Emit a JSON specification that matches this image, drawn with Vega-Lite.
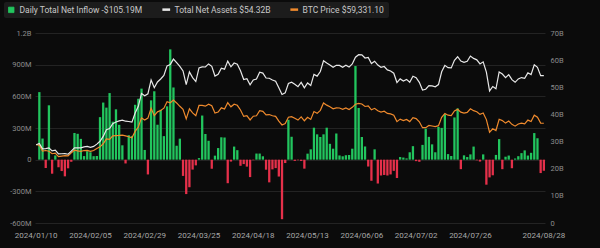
{
"$schema": "https://vega.github.io/schema/vega-lite/v6.json",
"width": 510,
"height": 190,
"autosize": {"type": "none"},
"padding": {"left": 35, "top": 33, "right": 55, "bottom": 25},
"background": "#0b0b0b",
"config": {"view": {"stroke": null}, "font": "Roboto"},
"data": {"values": [
{"date":"2024/01/10","inflow":0,"assets":28.85,"btc":46600},
{"date":"2024/01/11","inflow":640,"assets":29.31,"btc":46300},
{"date":"2024/01/12","inflow":200,"assets":27.31,"btc":42800},
{"date":"2024/01/16","inflow":-79,"assets":27.41,"btc":43100},
{"date":"2024/01/17","inflow":515,"assets":27.67,"btc":42700},
{"date":"2024/01/18","inflow":-133,"assets":26.57,"btc":41200},
{"date":"2024/01/19","inflow":40,"assets":26.87,"btc":41600},
{"date":"2024/01/22","inflow":-72,"assets":25.44,"btc":39500},
{"date":"2024/01/23","inflow":-108,"assets":25.51,"btc":39800},
{"date":"2024/01/24","inflow":-158,"assets":25.54,"btc":40100},
{"date":"2024/01/25","inflow":-82,"assets":25.34,"btc":39900},
{"date":"2024/01/26","inflow":-20,"assets":26.50,"btc":41800},
{"date":"2024/01/29","inflow":253,"assets":27.71,"btc":43300},
{"date":"2024/01/30","inflow":245,"assets":27.71,"btc":42900},
{"date":"2024/01/31","inflow":197,"assets":27.69,"btc":42600},
{"date":"2024/02/01","inflow":34,"assets":28.06,"btc":43100},
{"date":"2024/02/02","inflow":80,"assets":28.21,"btc":43200},
{"date":"2024/02/05","inflow":70,"assets":27.86,"btc":42600},
{"date":"2024/02/06","inflow":33,"assets":28.23,"btc":43100},
{"date":"2024/02/07","inflow":35,"assets":29.06,"btc":44300},
{"date":"2024/02/08","inflow":403,"assets":30.12,"btc":45300},
{"date":"2024/02/09","inflow":541,"assets":31.89,"btc":47100},
{"date":"2024/02/12","inflow":493,"assets":34.35,"btc":50000},
{"date":"2024/02/13","inflow":631,"assets":34.79,"btc":49700},
{"date":"2024/02/14","inflow":360,"assets":36.62,"btc":51800},
{"date":"2024/02/15","inflow":477,"assets":37.23,"btc":52000},
{"date":"2024/02/16","inflow":330,"assets":37.62,"btc":52100},
{"date":"2024/02/20","inflow":136,"assets":37.92,"btc":52300},
{"date":"2024/02/21","inflow":-36,"assets":37.50,"btc":51800},
{"date":"2024/02/22","inflow":232,"assets":37.40,"btc":51300},
{"date":"2024/02/23","inflow":225,"assets":37.16,"btc":50700},
{"date":"2024/02/26","inflow":520,"assets":40.49,"btc":54500},
{"date":"2024/02/27","inflow":577,"assets":43.00,"btc":57100},
{"date":"2024/02/28","inflow":673,"assets":47.75,"btc":62500},
{"date":"2024/02/29","inflow":92,"assets":46.88,"btc":61200},
{"date":"2024/03/01","inflow":-140,"assets":47.61,"btc":62400},
{"date":"2024/03/04","inflow":562,"assets":52.66,"btc":68300},
{"date":"2024/03/05","inflow":648,"assets":49.83,"btc":63800},
{"date":"2024/03/06","inflow":331,"assets":51.95,"btc":66100},
{"date":"2024/03/07","inflow":472,"assets":53.05,"btc":66900},
{"date":"2024/03/08","inflow":223,"assets":54.37,"btc":68300},
{"date":"2024/03/11","inflow":505,"assets":57.90,"btc":72100},
{"date":"2024/03/12","inflow":1045,"assets":58.42,"btc":71500},
{"date":"2024/03/13","inflow":684,"assets":60.38,"btc":73100},
{"date":"2024/03/14","inflow":132,"assets":59.12,"btc":71400},
{"date":"2024/03/15","inflow":199,"assets":57.67,"btc":69400},
{"date":"2024/03/18","inflow":-154,"assets":56.04,"btc":67600},
{"date":"2024/03/19","inflow":-326,"assets":51.01,"btc":61900},
{"date":"2024/03/20","inflow":-261,"assets":55.68,"btc":67900},
{"date":"2024/03/21","inflow":-94,"assets":53.58,"btc":65500},
{"date":"2024/03/22","inflow":-54,"assets":52.12,"btc":63800},
{"date":"2024/03/25","inflow":15,"assets":57.11,"btc":69900},
{"date":"2024/03/26","inflow":418,"assets":57.53,"btc":69900},
{"date":"2024/03/27","inflow":243,"assets":57.48,"btc":69500},
{"date":"2024/03/28","inflow":179,"assets":58.61,"btc":70700},
{"date":"2024/04/01","inflow":-86,"assets":57.71,"btc":69700},
{"date":"2024/04/02","inflow":38,"assets":54.15,"btc":65400},
{"date":"2024/04/03","inflow":110,"assets":54.78,"btc":66000},
{"date":"2024/04/04","inflow":212,"assets":57.06,"btc":68500},
{"date":"2024/04/05","inflow":210,"assets":56.68,"btc":67800},
{"date":"2024/04/08","inflow":-223,"assets":59.64,"btc":71600},
{"date":"2024/04/09","inflow":-18,"assets":57.56,"btc":69100},
{"date":"2024/04/10","inflow":124,"assets":58.95,"btc":70600},
{"date":"2024/04/11","inflow":90,"assets":58.52,"btc":70000},
{"date":"2024/04/12","inflow":-58,"assets":56.11,"btc":67200},
{"date":"2024/04/15","inflow":-42,"assets":52.88,"btc":63400},
{"date":"2024/04/16","inflow":-66,"assets":53.15,"btc":63800},
{"date":"2024/04/17","inflow":-165,"assets":50.88,"btc":61300},
{"date":"2024/04/18","inflow":-5,"assets":52.71,"btc":63500},
{"date":"2024/04/19","inflow":58,"assets":53.02,"btc":63800},
{"date":"2024/04/22","inflow":58,"assets":55.58,"btc":66800},
{"date":"2024/04/23","inflow":32,"assets":55.24,"btc":66400},
{"date":"2024/04/24","inflow":-95,"assets":53.43,"btc":64300},
{"date":"2024/04/25","inflow":-215,"assets":53.34,"btc":64500},
{"date":"2024/04/26","inflow":-92,"assets":52.70,"btc":63800},
{"date":"2024/04/29","inflow":-80,"assets":52.24,"btc":63400},
{"date":"2024/04/30","inflow":-160,"assets":49.81,"btc":60600},
{"date":"2024/05/01","inflow":-564,"assets":47.34,"btc":58300},
{"date":"2024/05/02","inflow":-32,"assets":47.93,"btc":59100},
{"date":"2024/05/03","inflow":378,"assets":51.39,"btc":62900},
{"date":"2024/05/06","inflow":217,"assets":51.89,"btc":63200},
{"date":"2024/05/07","inflow":-12,"assets":51.15,"btc":62300},
{"date":"2024/05/08","inflow":-5,"assets":50.25,"btc":61200},
{"date":"2024/05/09","inflow":-12,"assets":51.81,"btc":63100},
{"date":"2024/05/10","inflow":-85,"assets":49.80,"btc":60800},
{"date":"2024/05/13","inflow":57,"assets":51.58,"btc":62900},
{"date":"2024/05/14","inflow":98,"assets":50.64,"btc":61600},
{"date":"2024/05/15","inflow":303,"assets":54.76,"btc":66300},
{"date":"2024/05/16","inflow":240,"assets":54.12,"btc":65200},
{"date":"2024/05/17","inflow":215,"assets":55.81,"btc":67000},
{"date":"2024/05/20","inflow":240,"assets":59.76,"btc":71400},
{"date":"2024/05/21","inflow":303,"assets":58.95,"btc":70100},
{"date":"2024/05/22","inflow":150,"assets":58.25,"btc":69100},
{"date":"2024/05/23","inflow":104,"assets":57.38,"btc":67900},
{"date":"2024/05/24","inflow":248,"assets":58.09,"btc":68500},
{"date":"2024/05/28","inflow":40,"assets":58.07,"btc":68400},
{"date":"2024/05/29","inflow":32,"assets":57.39,"btc":67600},
{"date":"2024/05/30","inflow":42,"assets":58.14,"btc":68400},
{"date":"2024/05/31","inflow":44,"assets":57.44,"btc":67500},
{"date":"2024/06/03","inflow":104,"assets":58.62,"btc":68800},
{"date":"2024/06/04","inflow":887,"assets":61.07,"btc":70600},
{"date":"2024/06/05","inflow":490,"assets":62.00,"btc":71100},
{"date":"2024/06/06","inflow":215,"assets":61.95,"btc":70800},
{"date":"2024/06/07","inflow":125,"assets":60.78,"btc":69300},
{"date":"2024/06/10","inflow":-65,"assets":60.97,"btc":69600},
{"date":"2024/06/11","inflow":-200,"assets":58.75,"btc":67300},
{"date":"2024/06/12","inflow":98,"assets":59.61,"btc":68200},
{"date":"2024/06/13","inflow":-226,"assets":58.18,"btc":66800},
{"date":"2024/06/14","inflow":-150,"assets":57.35,"btc":66000},
{"date":"2024/06/17","inflow":-145,"assets":57.66,"btc":66500},
{"date":"2024/06/18","inflow":-150,"assets":56.40,"btc":65200},
{"date":"2024/06/20","inflow":-140,"assets":56.01,"btc":64900},
{"date":"2024/06/21","inflow":-106,"assets":55.19,"btc":64100},
{"date":"2024/06/24","inflow":-174,"assets":51.74,"btc":60300},
{"date":"2024/06/25","inflow":25,"assets":53.09,"btc":61800},
{"date":"2024/06/26","inflow":20,"assets":52.31,"btc":60900},
{"date":"2024/06/27","inflow":12,"assets":52.91,"btc":61600},
{"date":"2024/06/28","inflow":70,"assets":51.86,"btc":60300},
{"date":"2024/07/01","inflow":128,"assets":54.05,"btc":62700},
{"date":"2024/07/02","inflow":-14,"assets":53.53,"btc":62100},
{"date":"2024/07/03","inflow":-20,"assets":51.83,"btc":60200},
{"date":"2024/07/05","inflow":140,"assets":48.99,"btc":56700},
{"date":"2024/07/08","inflow":293,"assets":49.27,"btc":56700},
{"date":"2024/07/09","inflow":216,"assets":50.63,"btc":58000},
{"date":"2024/07/10","inflow":145,"assets":50.49,"btc":57700},
{"date":"2024/07/11","inflow":70,"assets":50.19,"btc":57300},
{"date":"2024/07/12","inflow":310,"assets":51.01,"btc":57900},
{"date":"2024/07/15","inflow":301,"assets":55.73,"btc":62900},
{"date":"2024/07/16","inflow":430,"assets":58.07,"btc":65100},
{"date":"2024/07/17","inflow":53,"assets":57.24,"btc":64100},
{"date":"2024/07/18","inflow":35,"assets":57.13,"btc":63900},
{"date":"2024/07/19","inflow":400,"assets":59.96,"btc":66700},
{"date":"2024/07/22","inflow":486,"assets":61.25,"btc":67600},
{"date":"2024/07/23","inflow":-90,"assets":59.64,"btc":65900},
{"date":"2024/07/24","inflow":41,"assets":59.19,"btc":65400},
{"date":"2024/07/25","inflow":25,"assets":59.55,"btc":65800},
{"date":"2024/07/26","inflow":50,"assets":61.52,"btc":67900},
{"date":"2024/07/29","inflow":124,"assets":60.65,"btc":66800},
{"date":"2024/07/30","inflow":-6,"assets":60.11,"btc":66200},
{"date":"2024/07/31","inflow":-18,"assets":58.59,"btc":64600},
{"date":"2024/08/01","inflow":50,"assets":59.38,"btc":65400},
{"date":"2024/08/02","inflow":-237,"assets":55.60,"btc":61500},
{"date":"2024/08/05","inflow":-168,"assets":48.65,"btc":54000},
{"date":"2024/08/06","inflow":-148,"assets":50.29,"btc":56000},
{"date":"2024/08/07","inflow":45,"assets":49.45,"btc":55000},
{"date":"2024/08/08","inflow":195,"assets":55.65,"btc":61700},
{"date":"2024/08/09","inflow":-90,"assets":54.87,"btc":60900},
{"date":"2024/08/12","inflow":28,"assets":53.52,"btc":59400},
{"date":"2024/08/13","inflow":39,"assets":54.66,"btc":60600},
{"date":"2024/08/14","inflow":-81,"assets":52.83,"btc":58700},
{"date":"2024/08/15","inflow":11,"assets":51.84,"btc":57600},
{"date":"2024/08/16","inflow":33,"assets":53.07,"btc":58900},
{"date":"2024/08/19","inflow":62,"assets":53.58,"btc":59400},
{"date":"2024/08/20","inflow":88,"assets":53.28,"btc":59000},
{"date":"2024/08/21","inflow":39,"assets":55.32,"btc":61200},
{"date":"2024/08/22","inflow":65,"assets":54.66,"btc":60400},
{"date":"2024/08/23","inflow":252,"assets":58.27,"btc":64100},
{"date":"2024/08/26","inflow":203,"assets":57.36,"btc":62900},
{"date":"2024/08/27","inflow":-127,"assets":54.29,"btc":59400},
{"date":"2024/08/28","inflow":-105.19,"assets":54.32,"btc":59331.1}
]},
"encoding": {
  "x": {"field": "date", "type": "ordinal", "sort": "ascending",
    "scale": {"paddingInner": 0.28, "paddingOuter": 0},
    "axis": {
      "labelExpr": "indexof(['2024/01/10','2024/02/05','2024/02/29','2024/03/25','2024/04/18','2024/05/13','2024/06/06','2024/07/02','2024/07/26','2024/08/28'], datum.value) >= 0 ? datum.value : ''",
      "title": null, "labelAngle": 0, "domain": false, "ticks": false, "grid": false,
      "labelColor": "#a8a8a8", "labelFontSize": 8, "labelPadding": 8, "labelOverlap": false, "labelBound": false, "labelFlush": false}}
},
"layer": [
  {"mark": {"type": "bar"},
   "encoding": {
     "y": {"field": "inflow", "type": "quantitative",
       "scale": {"domain": [-600, 1200], "nice": false},
       "axis": {"orient": "left", "title": null, "values": [-600,-300,0,300,600,900,1200],
         "labelExpr": "datum.value == 0 ? '0' : (abs(datum.value) >= 1000 ? format(datum.value/1000, '.1f') + 'B' : datum.value + 'M')",
         "grid": true, "gridColor": "#2a2a2a", "gridWidth": 0.8, "domain": false, "ticks": false,
         "labelColor": "#8c8c8c", "labelFontSize": 7.5, "labelPadding": 4}},
     "color": {"condition": {"test": "datum.inflow < 0", "value": "#e5304a"}, "value": "#22c55e"}
   }},
  {"mark": {"type": "line", "strokeWidth": 1.2},
   "encoding": {
     "y": {"field": "btc", "type": "quantitative", "scale": {"domain": [0, 113000], "nice": false}, "axis": null},
     "color": {"datum": "BTC Price"}
   }},
  {"mark": {"type": "line", "strokeWidth": 1.2},
   "encoding": {
     "y": {"field": "assets", "type": "quantitative",
       "scale": {"domain": [0, 70], "nice": false},
       "axis": {"orient": "right", "title": null, "values": [0,10,20,30,40,50,60,70],
         "labelExpr": "datum.value == 0 ? '0' : datum.value + 'B'",
         "grid": false, "domain": false, "ticks": false,
         "labelColor": "#8c8c8c", "labelFontSize": 7.5, "labelPadding": 5}},
     "color": {"datum": "Total Net Assets",
       "scale": {"domain": ["Daily Total Net Inflow", "Total Net Assets", "BTC Price"], "range": ["#22c55e", "#e8e8e8", "#ef8a2d"]},
       "legend": {"orient": "none", "legendX": -31, "legendY": -31, "direction": "horizontal", "title": null,
         "fillColor": "#1c1c1c", "padding": 3, "cornerRadius": 2,
         "labelExpr": "datum.label == 'Daily Total Net Inflow' ? 'Daily Total Net Inflow  -$105.19M' : datum.label == 'Total Net Assets' ? 'Total Net Assets  $54.32B' : 'BTC Price  $59,331.10'",
         "labelColor": "#c8c8c8", "labelFontSize": 8.5, "columnPadding": 12, "symbolOffset": 0,
         "encode": {
           "symbols": {"update": {
             "shape": {"signal": "datum.value === 'Daily Total Net Inflow' ? 'square' : 'stroke'"},
             "fill": {"signal": "datum.value === 'Daily Total Net Inflow' ? '#22c55e' : 'transparent'"},
             "stroke": {"signal": "datum.value === 'Total Net Assets' ? '#e8e8e8' : (datum.value === 'BTC Price' ? '#ef8a2d' : '#e5304a')"},
             "strokeWidth": {"signal": "datum.value === 'Daily Total Net Inflow' ? 0.8 : 2.5"},
             "size": {"signal": "datum.value === 'Daily Total Net Inflow' ? 30 : 60"},
             "opacity": {"value": 1}
           }}
         }}}
   }}
],
"resolve": {"scale": {"y": "independent"}}
}
